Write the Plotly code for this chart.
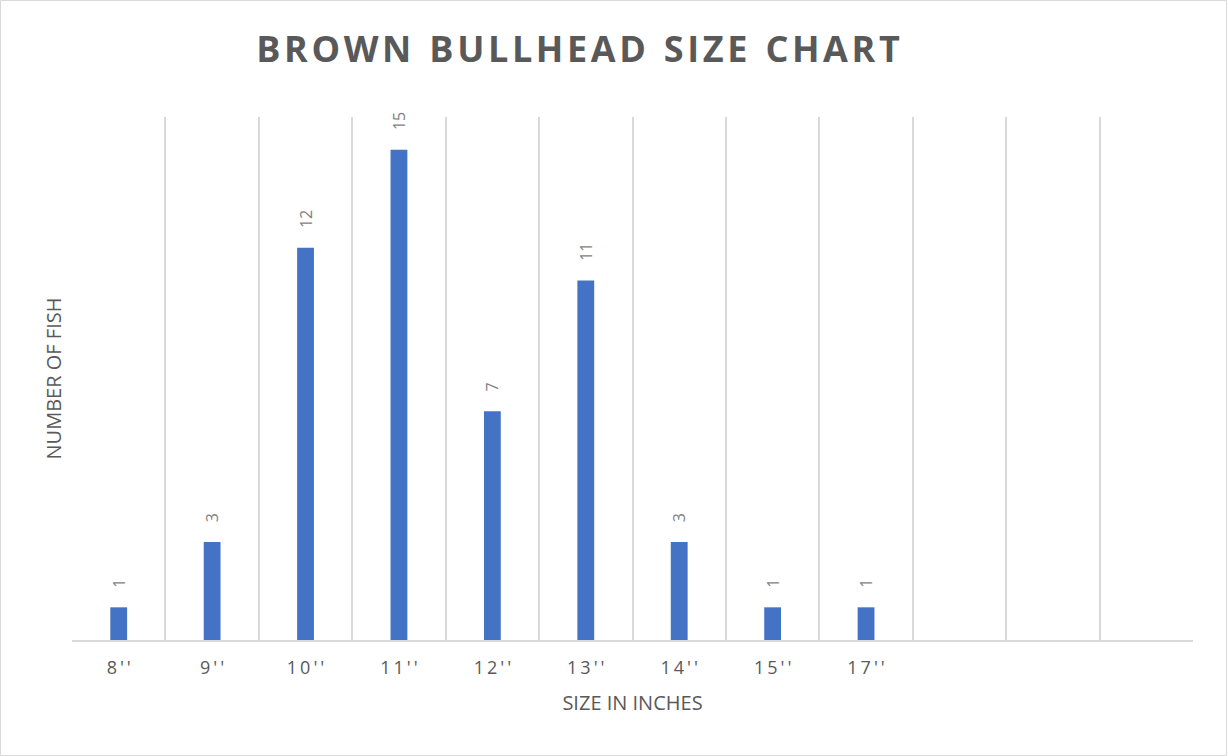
import plotly.graph_objects as go

sizes = ["8''", "9''", "10''", "11''", "12''", "13''", "14''", "15''", "17''"]
counts = [1, 3, 12, 15, 7, 11, 3, 1, 1]
n_slots = 12  # chart has three extra empty category slots

W, H = 1228, 756
ml, mr, mt, mb = 72, 35, 117, 116
pw, ph = W - ml - mr, H - mt - mb

x = list(range(len(sizes)))
spaced = ["\u2009".join(list(s)) for s in sizes]
label_pad = "\u00a0" * 4

title_text = "BROWN BULLHEAD SIZE CHART"
title_spaced = "\u2002".join("\u200a".join(list(w)) for w in title_text.split(" "))

fig = go.Figure()
fig.add_trace(go.Bar(
    x=x, y=counts, width=0.18,
    marker=dict(color="#4472C4", line=dict(width=0)),
    text=[label_pad + str(c) for c in counts],
    textposition="outside", textangle=-90, constraintext="none",
    textfont=dict(family="Open Sans", size=16, color="#7f7f7f"),
    cliponaxis=False,
))

fig.update_layout(
    width=W, height=H,
    margin=dict(l=ml, r=mr, t=mt, b=mb),
    paper_bgcolor="white", plot_bgcolor="white",
    showlegend=False,
    uniformtext=dict(mode=False),
    title=dict(
        text="<b>" + title_spaced + "</b>",
        x=578 / W, xanchor="center", y=1 - 49 / H, yanchor="middle",
        font=dict(family="Open Sans", size=36, color="#595959"),
    ),
    xaxis=dict(
        range=[-0.5, n_slots - 0.5],
        tickvals=x, ticktext=spaced,
        tickfont=dict(family="Open Sans", size=18, color="#595959"),
        showgrid=False, zeroline=False,
        showline=True, linecolor="#d9d9d9", linewidth=2,
        ticks="", ticklabelstandoff=10,
        minor=dict(tick0=-0.5, dtick=1, showgrid=True, gridcolor="#d9d9d9", gridwidth=1.5),
        title=dict(text="SIZE IN INCHES", standoff=18,
                   font=dict(family="Open Sans", size=20, color="#595959")),
    ),
    yaxis=dict(
        range=[0, 16], showgrid=False, zeroline=False, showticklabels=False,
        showline=False, ticks="",
        title=dict(text="NUMBER OF FISH", standoff=4,
                   font=dict(family="Open Sans", size=20, color="#595959")),
    ),
    shapes=[dict(
        type="rect", xref="paper", yref="paper",
        x0=-(ml - 0.5) / pw, x1=(W - 1.5 - ml) / pw,
        y0=-(mb - 0.5) / ph, y1=1 + (mt - 0.5) / ph,
        line=dict(color="#d9d9d9", width=1), fillcolor="rgba(0,0,0,0)", layer="below",
    )],
)

fig.write_html("out.html")
